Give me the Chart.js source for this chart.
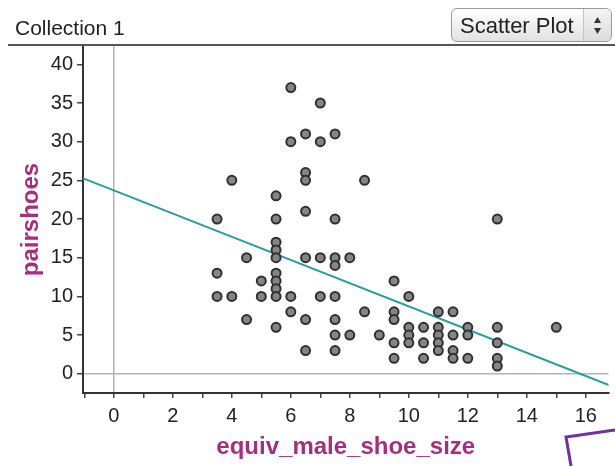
<!DOCTYPE html>
<html>
<head>
<meta charset="utf-8">
<script src="https://cdn.jsdelivr.net/npm/chart.js@4/dist/chart.umd.min.js"></script>
<style>
  html, body { margin: 0; padding: 0; background: #fff; }
  body { width: 615px; height: 466px; position: relative; overflow: hidden; font-family: "Liberation Sans", Arial, sans-serif; }
  #c { position: absolute; left: 0; top: 0; }
  #coll { position: absolute; left: 15px; top: 16px; font-size: 21px; color: #222; }
  #hdr { position: absolute; left: 8px; top: 44px; width: 607px; height: 2px; background: #555; }
  #btn { position: absolute; left: 451px; top: 8px; width: 161px; height: 34px; box-sizing: border-box;
         border: 1px solid #9a9a9a; border-radius: 6px; background: linear-gradient(#ffffff, #e2e2e2);
         font-size: 22px; color: #222; }
  #btn .t { position: absolute; left: 8px; top: 4px; }
  #btn .sep { position: absolute; left: 131px; top: 0; width: 1px; height: 32px; background: #c4c4c4; }
  #btn .arr { position: absolute; left: 132px; top: 0; width: 27px; height: 32px; border-radius: 0 5px 5px 0; background: linear-gradient(#f4f4f4, #dcdcdc); }
  #scrib { position: absolute; left: 0; top: 0; }
</style>
</head>
<body>
<canvas id="c" width="615" height="466"></canvas>
<div id="coll">Collection 1</div>
<div id="hdr"></div>
<div id="btn"><span class="t">Scatter Plot</span><div class="sep"></div><div class="arr">
  <svg width="27" height="32"><polygon points="13.5,8 10,14 17,14" fill="#333"/><polygon points="13.5,25 10,19 17,19" fill="#333"/></svg>
</div></div>
<svg id="scrib" width="615" height="466"><polyline points="615,430 566,437 571,466" fill="none" stroke="#7030a0" stroke-width="3"/></svg>
<script>
const shoeSize = [3.5,3.5,3.5, 4,4, 4.5,4.5, 5,5,
  5.5,5.5,5.5,5.5,5.5,5.5,5.5,5.5,5.5,5.5,
  6,6,6,6, 6.5,6.5,6.5,6.5,6.5,6.5,6.5, 7,7,7,7,
  7.5,7.5,7.5,7.5,7.5,7.5,7.5,7.5, 8,8, 8.5,8.5, 9,
  9.5,9.5,9.5,9.5,9.5, 10,10,10,10, 10.5,10.5,10.5,
  11,11,11,11,11, 11.5,11.5,11.5,11.5, 12,12,12, 13,13,13,13,13, 15];
const pairShoes = [20,13,10, 25,10, 15,7, 12,10,
  23,20,17,16,15,13,12,11,10,6,
  37,30,10,8, 31,26,25,21,15,7,3, 35,30,15,10,
  31,20,15,14,10,7,5,3, 15,5, 25,8, 5,
  12,8,7,4,2, 10,6,5,4, 6,4,2,
  8,6,5,4,3, 8,5,3,2, 6,5,2, 20,6,4,2,1, 6];
const fitLineX = [-1.1, 17];
const fitLineY = [25.35, -1.8];
const xTickMarks = [-1,0,1,2,3,4,5,6,7,8,9,10,11,12,13,14,15,16];
const xLabels = ['0','2','4','6','8','10','12','14','16'];
const yLabels = ['0','5','10','15','20','25','30','35','40'];

const points = shoeSize.map((x, i) => ({x: x, y: pairShoes[i]}));
const fitLine = fitLineX.map((x, i) => ({x: x, y: fitLineY[i]}));
const titleColor = '#a3307c';
const FONT = '"Liberation Sans", Arial, sans-serif';

new Chart(document.getElementById('c'), {
  type: 'scatter',
  data: {
    datasets: [
      { type: 'line', data: fitLine, borderColor: '#2a9d9b', borderWidth: 2, pointRadius: 0, fill: false, order: 2 },
      { data: points, backgroundColor: '#858585', borderColor: '#303030', borderWidth: 2, pointRadius: 4.5, order: 1 }
    ]
  },
  options: {
    responsive: false,
    animation: false,
    devicePixelRatio: 1,
    layout: { padding: { top: 46, left: 0, right: 0, bottom: 0 } },
    plugins: { legend: { display: false }, tooltip: { enabled: false } },
    scales: {
      x: {
        type: 'linear', min: -1.045, max: 16.77,
        afterBuildTicks: s => { s.ticks = xTickMarks.map(v => ({ value: v })); },
        afterFit: s => { s.height = 73; },
        border: { display: true, color: '#333', width: 2 },
        grid: {
          drawOnChartArea: true, drawTicks: true, tickLength: 5,
          color: c => (c.tick && c.tick.value === 0 ? '#b4b4b4' : 'rgba(0,0,0,0)'),
          tickColor: '#444', lineWidth: 1.5, tickWidth: 1.5
        },
        ticks: {
          autoSkip: false, maxRotation: 0, padding: 6, color: '#222',
          font: { family: FONT, size: 20 },
          callback: v => (xLabels.includes(String(v)) ? String(v) : '')
        },
        title: { display: true, text: 'equiv_male_shoe_size', color: titleColor,
          font: { family: FONT, size: 24, weight: 'bold' },
          padding: { top: 0, bottom: 4 } }
      },
      y: {
        type: 'linear', min: -2.49, max: 42.37,
        afterBuildTicks: s => { s.ticks = yLabels.map(v => ({ value: Number(v) })); },
        afterFit: s => { s.width = 83; },
        border: { display: true, color: '#333', width: 2 },
        grid: {
          drawOnChartArea: true, drawTicks: true, tickLength: 6,
          color: c => (c.tick && c.tick.value === 0 ? '#b4b4b4' : 'rgba(0,0,0,0)'),
          tickColor: '#444', lineWidth: 1.5, tickWidth: 1.5
        },
        ticks: {
          autoSkip: false, padding: 4, color: '#222',
          font: { family: FONT, size: 20 },
          callback: v => String(v)
        },
        title: { display: true, text: 'pairshoes', color: titleColor,
          font: { family: FONT, size: 24, weight: 'bold' },
          padding: { top: 17, bottom: 0 } }
      }
    }
  }
});
</script>
</body>
</html>
